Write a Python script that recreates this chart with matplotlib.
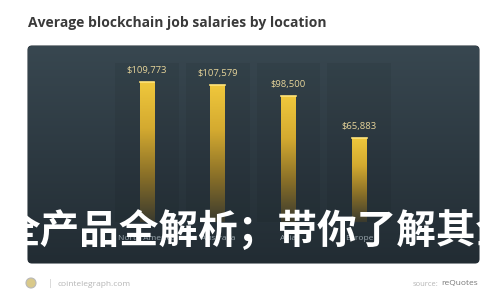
#!/usr/bin/env python3
# -*- coding: utf-8 -*-
"""Average blockchain job salaries by location - dark card bar chart."""

import numpy as np
import matplotlib
matplotlib.use("Agg")
import matplotlib.pyplot as plt
from matplotlib.patches import FancyBboxPatch, Circle
from matplotlib.colors import LinearSegmentedColormap

# ------------ DATA ------------
TITLE = "Average blockchain job salaries by location"
CATEGORIES = ["North America", "Australia", "Asia", "Europe"]
SALARIES = [109773, 107579, 98500, 65883]
VALUE_LABELS = ["$109,773", "$107,579", "$98,500", "$65,883"]
OVERLAY = "全产品全解析；带你了解其全"
SITE = "cointelegraph.com"
SOURCE_NAME = "reQuotes"
# ------------------------------

W, H, DPI = 500, 300, 100
PANEL_TOP = "#384750"
PANEL_BOT = "#222c33"
GOLD_TOP = "#f0c83c"
GOLD_BOT = "#3a3a2e"


def fx(px):
    return px / W


def fy(py):
    return 1 - py / H


fig = plt.figure(figsize=(W / DPI, H / DPI), dpi=DPI, facecolor="white")

# title
fig.text(fx(28), fy(23), TITLE, fontsize=10, fontweight="bold", color="#3a3a3a",
         family="Open Sans", va="center", ha="left")

# dark card with vertical gradient
bg = fig.add_axes([0, 0, 1, 1], zorder=0)
bg.set_xlim(0, W)
bg.set_ylim(H, 0)
bg.axis("off")
card = FancyBboxPatch((28, 46), 451, 217, boxstyle="round,pad=0,rounding_size=4",
                      fc=PANEL_TOP, ec="#2c363d", lw=0.8)
bg.add_patch(card)
grad = np.linspace(0, 1, 256).reshape(-1, 1)
cmap_bg = LinearSegmentedColormap.from_list("bg", [PANEL_TOP, PANEL_BOT])
im = bg.imshow(grad, cmap=cmap_bg, extent=[28, 479, 263, 46], aspect="auto", zorder=1)
im.set_clip_path(card)

# bars
ax = fig.add_axes([fx(111.7), fy(222), fx(282.8), 159.5 / H], zorder=1)
ax.patch.set_alpha(0)
x = np.arange(len(CATEGORIES))
ax.set_xlim(-0.5, len(CATEGORIES) - 0.5)
ax.set_ylim(0, 125000)

# faint column bands
for xi in x:
    ax.axvspan(xi - 0.45, xi + 0.45, color="black", alpha=0.06, lw=0, zorder=0)

bars = ax.bar(x, SALARIES, width=0.21, color=GOLD_TOP, zorder=2)
cmap_bar = LinearSegmentedColormap.from_list(
    "gold", [GOLD_BOT, "#8a7028", "#d4aa30", GOLD_TOP])
for b in bars:
    x0, w, h = b.get_x(), b.get_width(), b.get_height()
    gim = ax.imshow(grad, cmap=cmap_bar, extent=[x0, x0 + w, 0, h], origin="lower",
                    aspect="auto", zorder=3)
    gim.set_clip_path(b)
    ax.plot([x0, x0 + w], [h, h], color="#ffe37a", lw=1.2, zorder=4)

for xi, v, lab in zip(x, SALARIES, VALUE_LABELS):
    ax.annotate(lab, (xi, v), xytext=(0, 5), textcoords="offset points",
                ha="center", va="bottom", fontsize=6.8, color="#e6d49a",
                family="Open Sans")

ax.set_xticks(x)
ax.set_xticklabels(CATEGORIES, fontsize=6, color="#9aa6ae", family="Open Sans")
ax.tick_params(axis="x", length=0, pad=9)
ax.set_yticks([])
for s in ax.spines.values():
    s.set_visible(False)

# white Chinese overlay across the card (runs off both card edges)
fig.text(fx(258), fy(231), OVERLAY, fontsize=28.5, fontweight="bold", color="white",
         family=["Noto Sans CJK SC", "DejaVu Sans"], ha="center", va="center", zorder=10)

# footer
bg.add_patch(Circle((31, 283), 5, fc="#d9c98a", ec="#b8b8b8", lw=0.8, zorder=2))
fig.text(fx(49), fy(284), "|", fontsize=6, color="#d0d0d0", va="center")
fig.text(fx(57), fy(284), SITE, fontsize=6, color="#b5b5b5", va="center",
         family="Open Sans")
fig.text(fx(478), fy(284), SOURCE_NAME, fontsize=6, color="#777777", va="center",
         ha="right", family="Open Sans")
fig.text(fx(438), fy(284), "source:", fontsize=5.5, color="#b5b5b5", va="center",
         ha="right", family="Open Sans")

fig.savefig("out.png", dpi=DPI, facecolor="white")
